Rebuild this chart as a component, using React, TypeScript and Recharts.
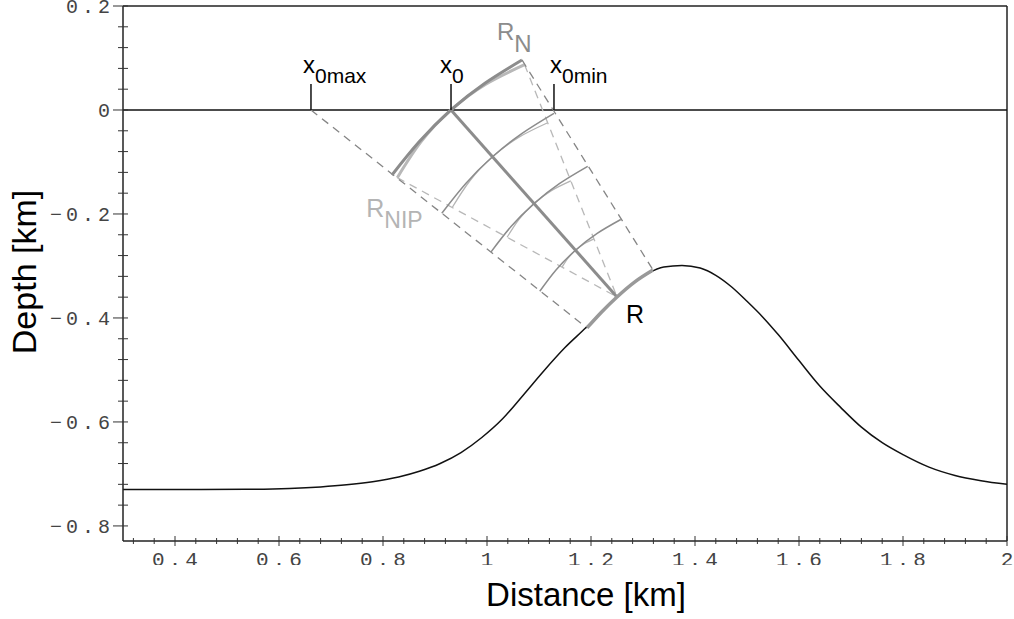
import React from 'react';
import { ComposedChart, Line, XAxis, YAxis, ReferenceLine, ReferenceDot } from 'recharts';

type P = { x: number; y: number };

// Reflector interface
const interfaceCurve: P[] = [
  { x: 0.3, y: -0.73 }, { x: 0.45, y: -0.73 }, { x: 0.55, y: -0.7295 }, { x: 0.62, y: -0.728 },
  { x: 0.68, y: -0.725 }, { x: 0.73, y: -0.721 }, { x: 0.78, y: -0.715 }, { x: 0.83, y: -0.706 },
  { x: 0.87, y: -0.695 }, { x: 0.91, y: -0.68 }, { x: 0.95, y: -0.659 }, { x: 0.99, y: -0.63 },
  { x: 1.03, y: -0.594 }, { x: 1.07, y: -0.548 }, { x: 1.11, y: -0.501 }, { x: 1.15, y: -0.457 },
  { x: 1.19, y: -0.419 }, { x: 1.22, y: -0.389 }, { x: 1.25, y: -0.36 }, { x: 1.28, y: -0.334 },
  { x: 1.31, y: -0.314 }, { x: 1.34, y: -0.302 }, { x: 1.375, y: -0.299 }, { x: 1.41, y: -0.304 },
  { x: 1.44, y: -0.318 }, { x: 1.47, y: -0.34 }, { x: 1.5, y: -0.368 }, { x: 1.53, y: -0.398 },
  { x: 1.56, y: -0.432 }, { x: 1.6, y: -0.482 }, { x: 1.64, y: -0.531 }, { x: 1.68, y: -0.572 },
  { x: 1.72, y: -0.61 }, { x: 1.76, y: -0.64 }, { x: 1.8, y: -0.663 }, { x: 1.85, y: -0.687 },
  { x: 1.9, y: -0.703 }, { x: 1.95, y: -0.713 }, { x: 2.0, y: -0.72 },
];

// Highlighted reflector segment around R
const reflectorSegment: P[] = [
  { x: 1.1923, y: -0.4192 }, { x: 1.22, y: -0.389 }, { x: 1.25, y: -0.3596 },
  { x: 1.285, y: -0.33 }, { x: 1.3192, y: -0.3077 },
];

const normalRay: P[] = [{ x: 0.9308, y: 0 }, { x: 1.25, y: -0.3596 }];

// Normal-wave fronts (first one = R_N at the surface)
const normalFrontRN: P[] = [
  { x: 0.8173, y: -0.125 }, { x: 0.87, y: -0.0608 }, { x: 0.9308, y: 0 },
  { x: 0.996, y: 0.0515 }, { x: 1.0673, y: 0.0962 },
];
const normalFront2: P[] = [
  { x: 0.9131, y: -0.1985 }, { x: 0.9592, y: -0.1412 }, { x: 1.0106, y: -0.09 },
  { x: 1.0675, y: -0.045 }, { x: 1.1288, y: -0.0065 },
];
const normalFront3: P[] = [
  { x: 1.0075, y: -0.2733 }, { x: 1.0462, y: -0.2242 }, { x: 1.0904, y: -0.18 },
  { x: 1.1398, y: -0.1412 }, { x: 1.1937, y: -0.1083 },
];
const normalFront4: P[] = [
  { x: 1.1015, y: -0.3487 }, { x: 1.1331, y: -0.3073 }, { x: 1.1702, y: -0.2698 },
  { x: 1.2119, y: -0.2373 }, { x: 1.2573, y: -0.2106 },
];

// NIP-wave fronts (first one = R_NIP at the surface)
const nipFrontRNIP: P[] = [
  { x: 0.8275, y: -0.1302 }, { x: 0.8733, y: -0.061 }, { x: 0.9308, y: 0 },
  { x: 0.9977, y: 0.0496 }, { x: 1.0723, y: 0.0871 },
];
const nipFront2: P[] = [
  { x: 0.9331, y: -0.1875 }, { x: 0.9675, y: -0.1356 }, { x: 1.0106, y: -0.09 },
  { x: 1.0608, y: -0.0527 }, { x: 1.1167, y: -0.0246 },
];
const nipFront3: P[] = [
  { x: 1.0387, y: -0.2448 }, { x: 1.0615, y: -0.2104 }, { x: 1.0904, y: -0.1798 },
  { x: 1.1238, y: -0.155 }, { x: 1.1612, y: -0.1363 },
];
const nipFront4: P[] = [
  { x: 1.1444, y: -0.3023 }, { x: 1.1558, y: -0.285 }, { x: 1.1702, y: -0.2698 },
  { x: 1.1869, y: -0.2573 }, { x: 1.2056, y: -0.2479 },
];

const outerRayLeft: P[] = [{ x: 0.6615, y: 0 }, { x: 1.1923, y: -0.4192 }];
const outerRayRight: P[] = [{ x: 1.0673, y: 0.0962 }, { x: 1.3192, y: -0.3077 }];
const nipRayLeft: P[] = [{ x: 0.8275, y: -0.1302 }, { x: 1.25, y: -0.3596 }];
const nipRayRight: P[] = [{ x: 1.0723, y: 0.0871 }, { x: 1.25, y: -0.3596 }];

const surfaceX = [0.6615, 0.9308, 1.1288];
const surfaceSub = ['0max', '0', '0min'];
const surfaceTickTop = 0.05;
const pointR: P = { x: 1.25, y: -0.3596 };

const xTicks = [
  0.32, 0.36, 0.4, 0.44, 0.48, 0.52, 0.56, 0.6, 0.64, 0.68, 0.72, 0.76, 0.8, 0.84, 0.88, 0.92,
  0.96, 1, 1.04, 1.08, 1.12, 1.16, 1.2, 1.24, 1.28, 1.32, 1.36, 1.4, 1.44, 1.48, 1.52, 1.56,
  1.6, 1.64, 1.68, 1.72, 1.76, 1.8, 1.84, 1.88, 1.92, 1.96, 2,
];
const xMajor = [0.4, 0.6, 0.8, 1, 1.2, 1.4, 1.6, 1.8, 2];
const xMajorLabels = ['0.4', '0.6', '0.8', '1', '1.2', '1.4', '1.6', '1.8', '2'];
const yTicks = [
  -0.8, -0.76, -0.72, -0.68, -0.64, -0.6, -0.56, -0.52, -0.48, -0.44, -0.4, -0.36, -0.32,
  -0.28, -0.24, -0.2, -0.16, -0.12, -0.08, -0.04, 0, 0.04, 0.08, 0.12, 0.16, 0.2,
];
const yMajor = [0.2, 0, -0.2, -0.4, -0.6, -0.8];
const yMajorLabels = ['0.2', '0', '\u22120.2', '\u22120.4', '\u22120.6', '\u22120.8'];

const findIdx = (arr: number[], v: number) => arr.findIndex((a) => Math.abs(a - v) < 1e-6);

const tickFont = "'Liberation Mono', 'DejaVu Sans Mono', monospace";
const sansFont = "'Liberation Sans', Arial, Helvetica, sans-serif";

const XTick = (props: any) => {
  const { x, y, payload, index } = props;
  const i = findIdx(xMajor, payload.value);
  const major = i >= 0;
  return (
    <g>
      <line x1={x} x2={x} y1={y - (major ? 5 : 3)} y2={y + (major ? 5 : 3)} stroke="#333" strokeWidth={1} />
      {major && (
        <>
          <defs>
            <clipPath id={`xclip${index}`}>
              <rect x={x - 40} y={y} width={80} height={24} />
            </clipPath>
          </defs>
          <text
            x={x + 2}
            y={y + 25}
            textAnchor="middle"
            fontFamily={tickFont}
            fontSize={21}
            letterSpacing={4}
            fill="#444"
            clipPath={`url(#xclip${index})`}
          >
            {xMajorLabels[i]}
          </text>
        </>
      )}
    </g>
  );
};

const YTick = (props: any) => {
  const { x, y, payload } = props;
  const i = findIdx(yMajor, payload.value);
  const major = i >= 0;
  return (
    <g>
      <line x1={x - (major ? 10 : 5)} x2={x + 5} y1={y} y2={y} stroke="#333" strokeWidth={1} />
      {major && (
        <text x={x - 9} y={y} dy="0.35em" textAnchor="end" fontFamily={tickFont} fontSize={20} letterSpacing={4} fill="#444">
          {yMajorLabels[i]}
        </text>
      )}
    </g>
  );
};

const SubLabel = (p: any) => (
  <text x={p.cx + p.dx} y={p.cy + p.dy} fontFamily={sansFont} fontSize={p.size} fill={p.color}>
    {p.main}
    <tspan dy={p.subDy} fontSize={p.subSize}>{p.sub}</tspan>
  </text>
);

const surfaceLabelOffsets = [-8, -11, -4];

const lineProps = { dot: false, activeDot: false, isAnimationActive: false, legendType: 'none' as const, dataKey: 'y' };

export default function App() {
  return (
    <div style={{ position: 'absolute', left: 0, top: 0, width: 1014, height: 619, background: '#fff' }}>
      <ComposedChart width={1014} height={619} margin={{ top: 6, right: 7, left: 0, bottom: 0 }}>
        <XAxis
          type="number"
          dataKey="x"
          domain={[0.3, 2]}
          allowDataOverflow
          ticks={xTicks}
          interval={0}
          height={78}
          tickSize={0}
          tickMargin={0}
          tick={<XTick />}
          stroke="#222"
          strokeWidth={1.5}
          label={{
            content: () => (
              <text x={586} y={606} textAnchor="middle" fontFamily={sansFont} fontSize={33} fill="#000">
                Distance [km]
              </text>
            ),
          }}
        />
        <YAxis
          type="number"
          domain={[-0.829, 0.2]}
          allowDataOverflow
          ticks={yTicks}
          interval={0}
          width={123}
          tickSize={0}
          tickMargin={0}
          tick={<YTick />}
          stroke="#222"
          strokeWidth={1.5}
          label={{
            content: () => (
              <text x={36} y={272} transform="rotate(-90 36 272)" textAnchor="middle" fontFamily={sansFont} fontSize={34} fill="#000">
                Depth [km]
              </text>
            ),
          }}
        />
        <ReferenceLine y={0.2} stroke="#222" strokeWidth={1.5} />
        <ReferenceLine x={2} stroke="#222" strokeWidth={1.5} />
        <ReferenceLine y={0} stroke="#111" strokeWidth={1.5} />

        {/* NIP wave fronts (light) */}
        <Line {...lineProps} key="nip2" data={nipFront2} type="natural" stroke="#b4b4b4" strokeWidth={1.3} />
        <Line {...lineProps} key="nip3" data={nipFront3} type="natural" stroke="#b4b4b4" strokeWidth={1.3} />
        <Line {...lineProps} key="nip4" data={nipFront4} type="natural" stroke="#b4b4b4" strokeWidth={1.3} />
        <Line {...lineProps} key="nipRN" data={nipFrontRNIP} type="natural" stroke="#b8b8b8" strokeWidth={3} />

        {/* NIP rays (light dashed) */}
        <Line {...lineProps} key="nrl" data={nipRayLeft} type="linear" stroke="#b8b8b8" strokeWidth={1.3} strokeDasharray="8 6" />
        <Line {...lineProps} key="nrr" data={nipRayRight} type="linear" stroke="#b8b8b8" strokeWidth={1.3} strokeDasharray="8 6" />

        {/* outer rays (dark dashed) */}
        <Line {...lineProps} key="orl" data={outerRayLeft} type="linear" stroke="#858585" strokeWidth={1.3} strokeDasharray="8 6" />
        <Line {...lineProps} key="orr" data={outerRayRight} type="linear" stroke="#858585" strokeWidth={1.3} strokeDasharray="8 6" />

        {/* Normal wave fronts (dark) */}
        <Line {...lineProps} key="nf2" data={normalFront2} type="natural" stroke="#8c8c8c" strokeWidth={1.5} />
        <Line {...lineProps} key="nf3" data={normalFront3} type="natural" stroke="#8c8c8c" strokeWidth={1.5} />
        <Line {...lineProps} key="nf4" data={normalFront4} type="natural" stroke="#8c8c8c" strokeWidth={1.5} />
        <Line {...lineProps} key="nfRN" data={normalFrontRN} type="natural" stroke="#8c8c8c" strokeWidth={3} />

        {/* Normal ray */}
        <Line {...lineProps} key="nray" data={normalRay} type="linear" stroke="#8c8c8c" strokeWidth={3} />

        {/* Interface */}
        <Line {...lineProps} key="iface" data={interfaceCurve} type="monotone" stroke="#111" strokeWidth={1.5} />
        <Line {...lineProps} key="refl" data={reflectorSegment} type="natural" stroke="#999" strokeWidth={3.5} />

        {/* surface ticks */}
        {surfaceX.map((sx, i) => (
          <Line
            {...lineProps}
            key={`st${i}`}
            data={[{ x: sx, y: 0 }, { x: sx, y: surfaceTickTop }]}
            type="linear"
            stroke="#111"
            strokeWidth={1.5}
          />
        ))}
        {surfaceX.map((sx, i) => (
          <ReferenceDot
            key={`sl${i}`}
            x={sx}
            y={surfaceTickTop}
            r={0}
            shape={(p: any) => (
              <SubLabel cx={p.cx} cy={p.cy} dx={surfaceLabelOffsets[i]} dy={-11} main="x" sub={surfaceSub[i]} size={24} subSize={21} subDy={10} color="#000" />
            )}
          />
        ))}
        <ReferenceDot
          x={normalFrontRN[4].x}
          y={normalFrontRN[4].y}
          r={0}
          shape={(p: any) => (
            <SubLabel cx={p.cx} cy={p.cy} dx={-25} dy={-20} main="R" sub="N" size={24} subSize={24} subDy={12} color="#8c8c8c" />
          )}
        />
        <ReferenceDot
          x={nipFrontRNIP[0].x}
          y={nipFrontRNIP[0].y}
          r={0}
          shape={(p: any) => (
            <SubLabel cx={p.cx} cy={p.cy} dx={-31} dy={39} main="R" sub="NIP" size={25} subSize={23} subDy={11} color="#b4b4b4" />
          )}
        />
        <ReferenceDot
          x={pointR.x}
          y={pointR.y}
          r={0}
          shape={(p: any) => (
            <text x={p.cx + 9} y={p.cy + 26} fontFamily={sansFont} fontSize={25} fill="#000">
              R
            </text>
          )}
        />
      </ComposedChart>
    </div>
  );
}
